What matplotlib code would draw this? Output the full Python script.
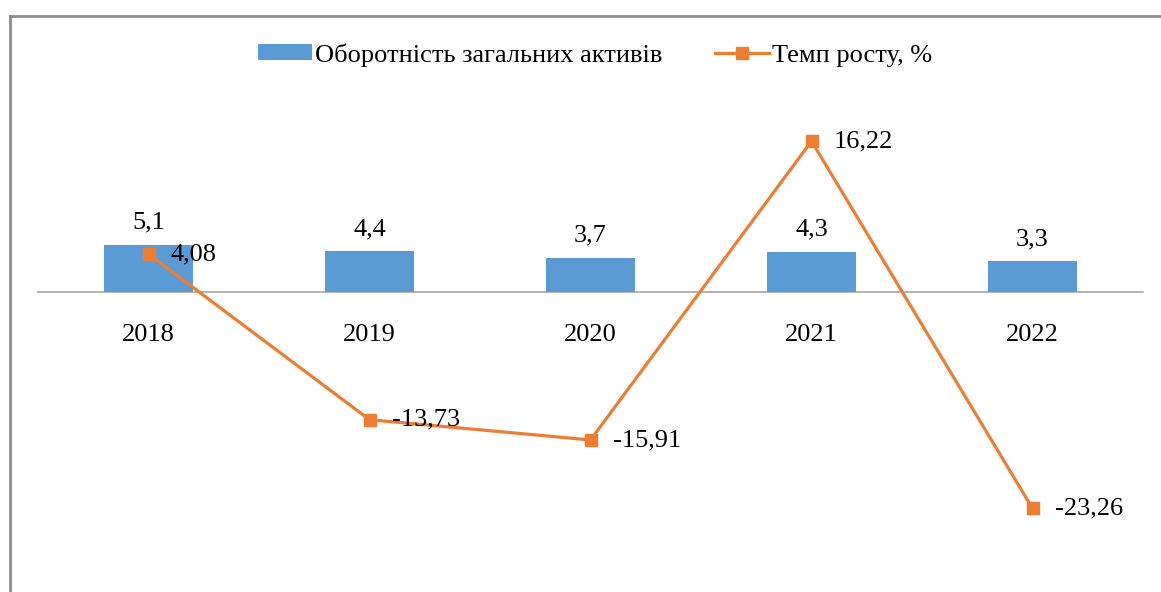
import matplotlib.pyplot as plt
from matplotlib.lines import Line2D
import numpy as np

plt.rcParams['font.family'] = ['Liberation Serif', 'DejaVu Serif']

years = ['2018', '2019', '2020', '2021', '2022']
turnover = [5.1, 4.4, 3.7, 4.3, 3.3]
growth = [4.08, -13.73, -15.91, 16.22, -23.26]

turnover_labels = ['5,1', '4,4', '3,7', '4,3', '3,3']
growth_labels = ['4,08', '-13,73', '-15,91', '16,22', '-23,26']

bar_color = '#5b9bd5'
line_color = '#ed7d31'
fs = 19

fig = plt.figure(figsize=(11.61, 5.92), dpi=100)
W, H = 1161, 592
# plot area in pixels: x 38..1143, zero at y=292, 9.3 px per unit
ymin, ymax = -30, 20
px_per_unit = 9.3
top_px = 292 - ymax * px_per_unit
bot_px = 292 - ymin * px_per_unit
ax = fig.add_axes([38 / W, 1 - bot_px / H, (1143 - 38) / W, (bot_px - top_px) / H])

x = np.arange(len(years))
bars = ax.bar(x, turnover, width=0.4, color=bar_color, zorder=2,
              label='Оборотність загальних активів')
line, = ax.plot(x, growth, color=line_color, lw=2.3, marker='s', markersize=9,
                zorder=3, label='Темп росту, %')

for xi, v, lab in zip(x, turnover, turnover_labels):
    ax.annotate(lab, (xi, v), xytext=(0, 8), textcoords='offset points',
                ha='center', va='bottom', fontsize=fs)
for xi, v, lab in zip(x, growth, growth_labels):
    ax.annotate(lab, (xi, v), xytext=(16, 0), textcoords='offset points',
                ha='left', va='center', fontsize=fs)

ax.set_xlim(-0.5, len(years) - 0.5)
ax.set_ylim(ymin, ymax)
ax.set_xticks(x)
ax.set_xticklabels(years)
ax.tick_params(axis='x', length=0, pad=23, labelsize=fs)
ax.set_yticks([])
for side in ['top', 'right', 'left']:
    ax.spines[side].set_visible(False)
ax.spines['bottom'].set_position(('data', 0))
ax.spines['bottom'].set_color('#a6a6a6')
ax.spines['bottom'].set_linewidth(1.2)
ax.spines['bottom'].set_zorder(1)

# chart border (left and top)
fig.add_artist(Line2D([9.5 / W, 9.5 / W], [0, 1 - 16 / H], color='#8c8c8c',
                      lw=2, transform=fig.transFigure))
fig.add_artist(Line2D([9.5 / W, 1], [1 - 16 / H, 1 - 16 / H], color='#8c8c8c',
                      lw=2, transform=fig.transFigure))

fig.legend([bars, line], ['Оборотність загальних активів', 'Темп росту, %'],
           loc='center', bbox_to_anchor=(595 / W, 1 - 55 / H), ncol=2,
           frameon=False, fontsize=fs, handlelength=2.05, handleheight=0.55,
           columnspacing=2.0, handletextpad=0.12)

fig.savefig('out.png', dpi=100)
